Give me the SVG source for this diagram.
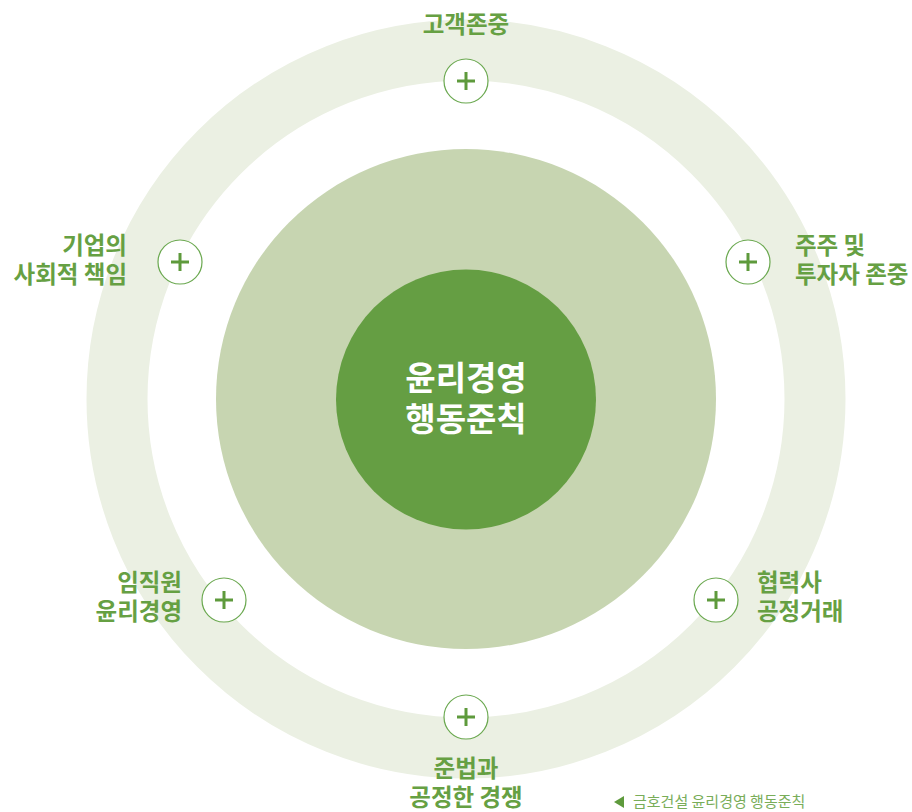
<svg xmlns="http://www.w3.org/2000/svg" width="912" height="812" viewBox="0 0 912 812">
<style>
.lbl{font-family:"Noto Sans CJK KR","Noto Sans",sans-serif;font-weight:700;font-size:23.5px;fill:#66a043;}
.ctr{font-family:"Noto Sans CJK KR","Noto Sans",sans-serif;font-weight:700;font-size:33px;fill:#ffffff;text-anchor:middle;}
.cap{font-family:"Noto Sans CJK KR","Noto Sans",sans-serif;font-size:15px;fill:#79ad59;}
.pc{fill:#ffffff;stroke:#6aa84f;stroke-width:1.2;}
.pl{stroke:#5e9a3c;stroke-width:3;fill:none;}
</style>
<defs>
<g id="plus"><circle class="pc" r="22"/><path class="pl" d="M-9 0H9M0 -9V9"/></g>
</defs>
<rect width="912" height="812" fill="#ffffff"/>
<g id="rings">
<circle cx="466" cy="399" r="349" fill="none" stroke="#ebf0e3" stroke-width="61"/>
<circle cx="466" cy="399" r="250" fill="#c7d5b1"/>
</g>
<g id="center">
<circle cx="466" cy="399.5" r="130" fill="#659e43"/>
<text class="ctr"><tspan x="466" y="390">윤리경영</tspan><tspan x="466" y="431">행동준칙</tspan></text>
</g>
<g id="n1"><use href="#plus" x="466" y="81"/><text class="lbl" x="466" y="33" text-anchor="middle">고객존중</text></g>
<g id="n2"><use href="#plus" x="748" y="262"/><text class="lbl"><tspan x="795" y="254">주주 및</tspan><tspan x="795" y="283">투자자 존중</tspan></text></g>
<g id="n3"><use href="#plus" x="716" y="600"/><text class="lbl"><tspan x="757" y="591">협력사</tspan><tspan x="757" y="620">공정거래</tspan></text></g>
<g id="n4"><use href="#plus" x="466" y="717"/><text class="lbl" text-anchor="middle"><tspan x="466" y="777">준법과</tspan><tspan x="466" y="806">공정한 경쟁</tspan></text></g>
<g id="n5"><use href="#plus" x="224" y="600"/><text class="lbl" text-anchor="end"><tspan x="182" y="591">임직원</tspan><tspan x="182" y="620">윤리경영</tspan></text></g>
<g id="n6"><use href="#plus" x="180" y="262"/><text class="lbl" text-anchor="end"><tspan x="127" y="254">기업의</tspan><tspan x="127" y="283">사회적 책임</tspan></text></g>
<g id="connectors"></g>
<g id="caption"><path d="M614 802l10 -6v12z" fill="#5e9a3c"/><text class="cap" x="633" y="807">금호건설 윤리경영 행동준칙</text></g>
</svg>
